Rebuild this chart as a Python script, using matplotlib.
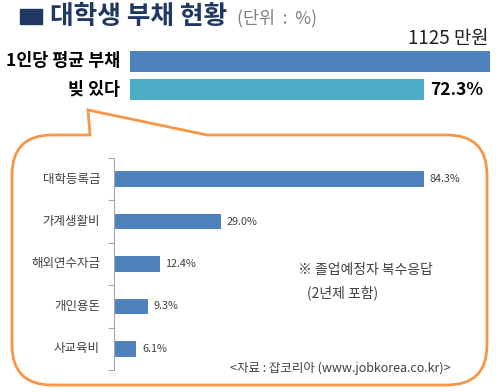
import matplotlib
matplotlib.use("Agg")
import matplotlib.pyplot as plt
from matplotlib.path import Path
from matplotlib.patches import PathPatch, Rectangle

plt.rcParams['font.family'] = ['Noto Sans CJK KR', 'DejaVu Sans']

# data
top_labels = ["1인당 평균 부채", "빚 있다"]
avg_debt = 1125          # 만원
has_debt = 72.3          # %
items = ["대학등록금", "가계생활비", "해외연수자금", "개인용돈", "사교육비"]
shares = [84.3, 29.0, 12.4, 9.3, 6.1]

W, H = 500, 392
fig = plt.figure(figsize=(W / 100, H / 100), dpi=100)


def box(x0, y0, x1, y1):
    # pixel box (top-left origin) -> figure fraction rect
    return [x0 / W, 1 - y1 / H, (x1 - x0) / W, (y1 - y0) / H]


def ftext(x, y, s, **kw):
    fig.text(x / W, 1 - y / H, s, **kw)


# title
fig.patches.append(Rectangle((20 / W, 1 - 24 / H), 22 / W, 15 / H,
                             transform=fig.transFigure, color="#1F3864"))
ftext(50, 16, "대학생 부채 현황", fontsize=18.5, fontweight="bold",
      color="#1F3864", va="center")
ftext(237, 18, "(단위  :  %)", fontsize=12.5, color="#7F7F7F", va="center")

# top bars
ax1 = fig.add_axes(box(130, 51, 490, 100))
scale_max = has_debt / 0.817
ax1.barh(0, scale_max, height=0.72, color="#4F81BD")
ax1.barh(1, has_debt, height=0.72, color="#4BACC6")
ax1.set_xlim(0, scale_max)
ax1.set_ylim(1.36, -0.36)
ax1.axis("off")
ax1.text(scale_max * 0.995, -0.42, f"{avg_debt} 만원", fontsize=13.5,
         ha="right", va="bottom", color="#222222")
ax1.text(has_debt + 1.5, 1, f"{has_debt}%", fontsize=12.5, fontweight="bold",
         va="center")
for i, lab in enumerate(top_labels):
    ax1.text(-scale_max * 0.028, i, lab, fontsize=12.5, fontweight="bold",
             ha="right", va="center")

# callout outline
r = 40
x0, y0, x1, y1 = 12, 135, 487, 385
tip = (88, 110)
tl, tr = 90, 207


def P(x, y):
    return (x / W, 1 - y / H)


verts = [P(x0 + r, y0), P(tl, y0), P(*tip), P(tr, y0), P(x1 - r, y0),
         P(x1, y0), P(x1, y0 + r),
         P(x1, y1 - r), P(x1, y1), P(x1 - r, y1),
         P(x0 + r, y1), P(x0, y1), P(x0, y1 - r),
         P(x0, y0 + r), P(x0, y0), P(x0 + r, y0)]
codes = [Path.MOVETO, Path.LINETO, Path.LINETO, Path.LINETO, Path.LINETO,
         Path.CURVE3, Path.CURVE3,
         Path.LINETO, Path.CURVE3, Path.CURVE3,
         Path.LINETO, Path.CURVE3, Path.CURVE3,
         Path.LINETO, Path.CURVE3, Path.CURVE3]
fig.patches.append(PathPatch(Path(verts, codes), transform=fig.transFigure,
                             facecolor="none", edgecolor="#F79646", lw=2))

# inner bar chart
ax2 = fig.add_axes(box(114, 158, 482, 370))
ypos = list(range(len(items)))
ax2.barh(ypos, shares, height=0.37, color="#4F81BD")
ax2.set_xlim(0, 100)
ax2.set_ylim(len(items) - 0.5, -0.5)
for s in ["top", "right", "bottom"]:
    ax2.spines[s].set_visible(False)
ax2.spines["left"].set_color("#A6A6A6")
ax2.set_xticks([])
ax2.set_yticks([i - 0.5 for i in range(len(items) + 1)])
ax2.set_yticklabels([])
ax2.tick_params(axis="y", length=4, color="#A6A6A6")
for i, (lab, v) in enumerate(zip(items, shares)):
    ax2.text(-3.8, i, lab, fontsize=9, ha="right", va="center", color="#404040")
    ax2.text(v + 1.5, i, f"{v:.1f}%", fontsize=7.8, va="center", color="#404040")

ftext(298, 270, "※ 졸업예정자 복수응답", fontsize=10, color="#404040", va="center")
ftext(307, 293, "(2년제 포함)", fontsize=10, color="#404040", va="center")
ftext(230, 368, "<자료 : 잡코리아 (www.jobkorea.co.kr)>", fontsize=9,
      color="#404040", va="center")

fig.savefig("out.png", dpi=100)
